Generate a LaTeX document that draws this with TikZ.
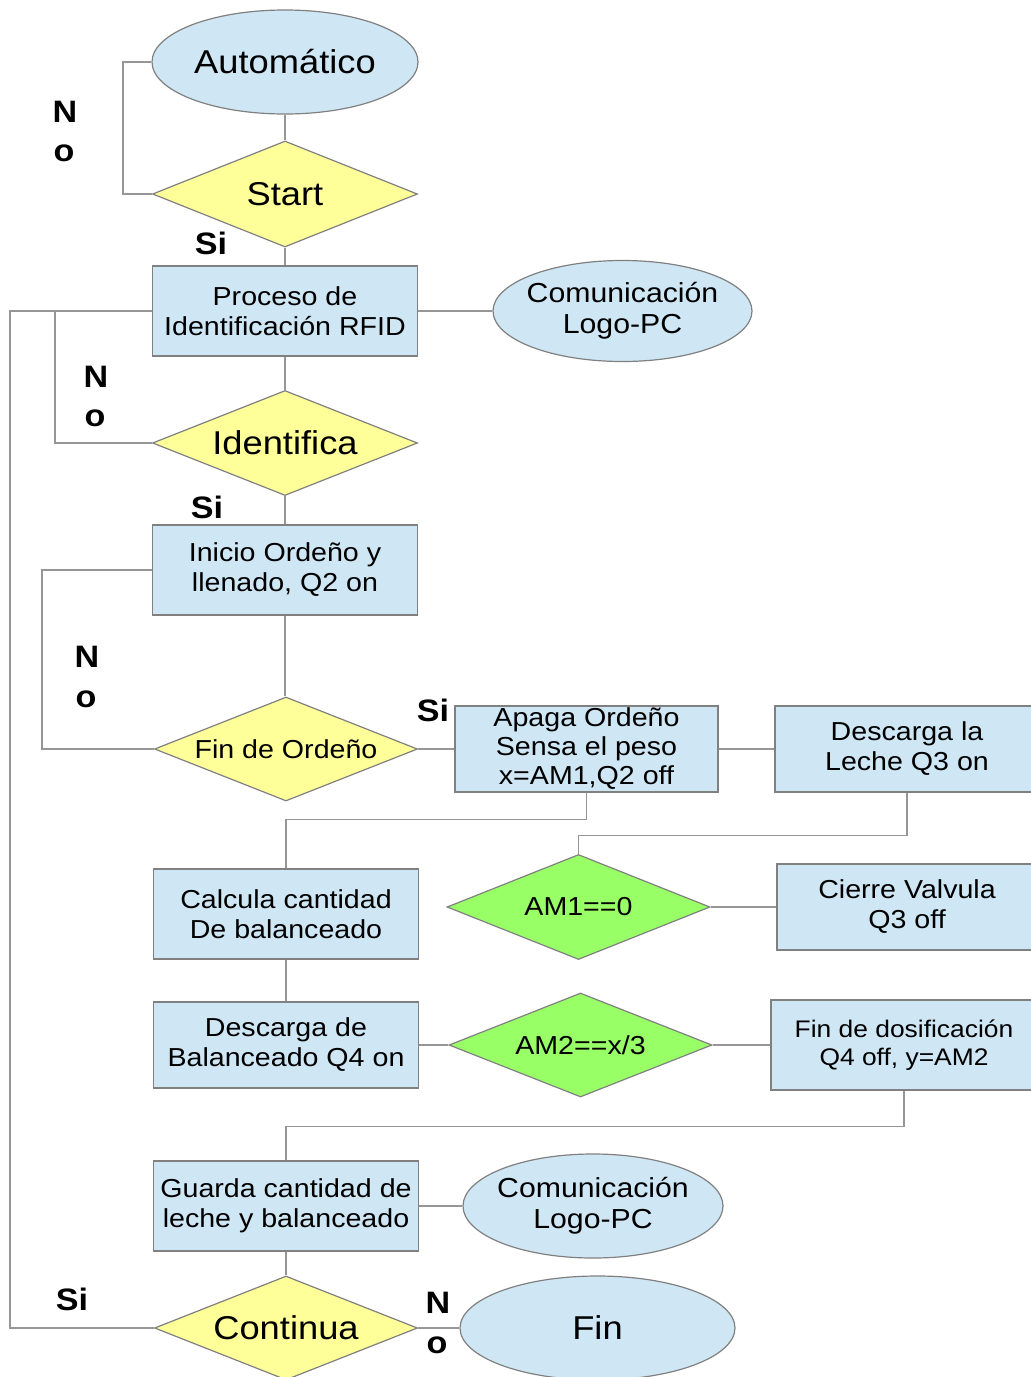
\documentclass[tikz,border=0pt]{standalone}
\usepackage{fontspec}
\setmainfont{Liberation Sans}[FakeStretch=1.1]
\usetikzlibrary{shapes.geometric}
\definecolor{boxblue}{RGB}{207,231,245}
\definecolor{dyellow}{RGB}{255,255,153}
\definecolor{dgreen}{RGB}{153,255,102}
\definecolor{edgegrey}{RGB}{128,128,128}
\definecolor{wiregrey}{RGB}{150,150,150}
\newcommand\myfsbig{\fontsize{33}{36}\selectfont}
\newcommand\myfsbox{\fontsize{26}{30}\selectfont}
\newcommand\myfscom{\fontsize{27.5}{31}\selectfont}
\newcommand\myfslab{\fontsize{31}{34}\selectfont\bfseries}
\begin{document}
\begin{tikzpicture}[x=1pt,y=-1pt,
  procbox/.style={rectangle, draw=edgegrey, line width=1.2pt, fill=boxblue, align=center, inner sep=0pt, font=\myfsbox},
  decbox/.style={diamond, draw=edgegrey, line width=1.2pt, fill=dyellow, align=center, inner sep=0pt, aspect=2.5, font=\myfsbox},
  greendec/.style={decbox, fill=dgreen},
  termbox/.style={ellipse, draw=edgegrey, line width=1.2pt, fill=boxblue, align=center, inner sep=0pt, font=\myfsbig},
  lab/.style={inner sep=0pt, font=\myfslab},
  conn/.style={draw=wiregrey, line width=1.3pt}]
\clip (0,0) rectangle (1031,1377);
\fill[white] (0,0) rectangle (1031,1377);

% terminals
\node[termbox, minimum width=266pt, minimum height=104pt] (auto) at (285,62) {Automático};
\node[termbox, minimum width=259pt, minimum height=101pt, inner xsep=-12pt, inner ysep=-12pt, font=\myfscom] (com1) at (622.5,311) {Comunicación\\Logo-PC};
\node[termbox, minimum width=260pt, minimum height=104pt, inner xsep=-12pt, inner ysep=-12pt, font=\myfscom] (com2) at (593,1206) {Comunicación\\Logo-PC};
\node[termbox, minimum width=275pt, minimum height=104pt] (fin) at (597.5,1328) {Fin};

% decisions
\node[decbox, minimum width=265pt, minimum height=106pt, font=\myfsbig] (start) at (285,194) {Start};
\node[decbox, minimum width=265pt, minimum height=105pt, font=\myfsbig] (iden) at (285,443) {Identifica};
\node[decbox, minimum width=263pt, minimum height=104pt] (fino) at (286,749) {Fin de Ordeño};
\node[greendec, minimum width=263pt, minimum height=105pt] (am1) at (578.5,907) {AM1==0};
\node[greendec, minimum width=263pt, minimum height=104pt] (am2) at (580.5,1045) {AM2==x/3};
\node[decbox, minimum width=263pt, minimum height=104pt, font=\myfsbig] (cont) at (286,1328) {Continua};

% processes
\node[procbox, minimum width=265pt, minimum height=90pt] (proc) at (285,311) {Proceso de\\Identificación RFID};
\node[procbox, minimum width=265pt, minimum height=90pt] (ini) at (285,570) {Inicio Ordeño y\\llenado, Q2 on};
\node[procbox, minimum width=263pt, minimum height=86pt, font=\fontsize{26}{29}\selectfont] (apaga) at (586.5,749) {Apaga Ordeño\\Sensa el peso\\x=AM1,Q2 off};
\node[procbox, minimum width=264pt, minimum height=86pt] (desc) at (907,749) {Descarga la\\Leche Q3 on};
\node[procbox, minimum width=260pt, minimum height=86pt] (cierre) at (907,907) {Cierre Valvula\\Q3 off};
\node[procbox, minimum width=265pt, minimum height=90pt] (calc) at (286,914) {Calcula cantidad\\De balanceado};
\node[procbox, minimum width=265pt, minimum height=86pt] (dbal) at (286,1045) {Descarga de\\Balanceado Q4 on};
\node[procbox, minimum width=266pt, minimum height=90pt, font=\fontsize{24}{28}\selectfont] (fdos) at (904,1045) {Fin de dosificación\\Q4 off, y=AM2};
\node[procbox, minimum width=265pt, minimum height=90pt] (guar) at (286,1206) {Guarda cantidad de\\leche y balanceado};

% labels
\node[lab] (n1) at (65,112) {N};
\node[lab] (o1) at (64,153) {o};
\node[lab] (si1) at (211,243) {Si};
\node[lab] (n2) at (96,377) {N};
\node[lab] (o2) at (95,418) {o};
\node[lab] (si2) at (207,507) {Si};
\node[lab] (n3) at (87,657) {N};
\node[lab] (o3) at (86,699) {o};
\node[lab] (si3) at (433,710) {Si};
\node[lab] (si4) at (72,1299) {Si};
\node[lab] (n4) at (438,1303) {N};
\node[lab] (o4) at (437,1345) {o};

% helper coordinates for loop columns
\coordinate (colA) at (123,0);
\coordinate (colB) at (10,0);
\coordinate (colC) at (55,0);
\coordinate (colD) at (42,0);

% connectors
\draw[conn] (auto.south) -- (start.north);
\draw[conn] (start.west) -- (start.west -| colA) |- (auto.west);
\draw[conn] (start.south) -- (proc.north);
\draw[conn] (proc.east) -- (com1.west);
\draw[conn] (proc.south) -- (iden.north);
\draw[conn] (iden.west) -- (iden.west -| colC) |- (proc.west);
\draw[conn] (iden.south) -- (ini.north);
\draw[conn] (ini.south) -- (ini.south |- fino.north);
\draw[conn] (fino.west) -- (fino.west -| colD) |- (ini.west);
\draw[conn] (fino.east) -- (apaga.west);
\draw[conn] (apaga.east) -- (desc.west);
\draw[conn] (apaga.south) -- ++(0,27) -| (calc.north);
\draw[conn] (desc.south) -- ++(0,43) -| (am1.north);
\draw[conn] (am1.east) -- (cierre.west);
\draw[conn] (calc.south) -- (dbal.north);
\draw[conn] (dbal.east) -- (am2.west);
\draw[conn] (am2.east) -- (fdos.west);
\draw[conn] (fdos.south) -- ++(0,36) -| (guar.north);
\draw[conn] (guar.east) -- (com2.west);
\draw[conn] (guar.south) -- (cont.north);
\draw[conn] (cont.east) -- (fin.west);
\draw[conn] (cont.west) -- (cont.west -| colB) |- (proc.west);
\end{tikzpicture}
\end{document}
